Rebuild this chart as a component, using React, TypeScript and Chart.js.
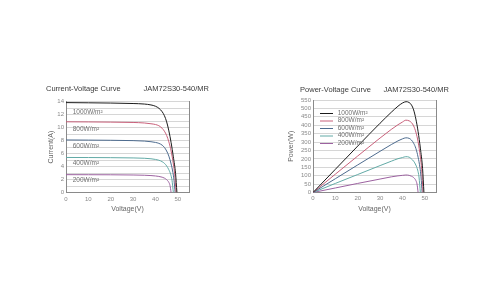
import React, { useEffect, useRef } from 'react';
import { Chart, registerables } from 'chart.js';
Chart.register(...registerables);

const FONT = "'Liberation Sans', Arial, Helvetica, sans-serif";

const irradianceLabels = ['1000W/m²', '800W/m²', '600W/m²', '400W/m²', '200W/m²'];
const seriesColors = ['#1c1c1c', '#c8607a', '#4d6b8e', '#62aaa6', '#9c62a0'];

const xTickValues = [0, 10, 20, 30, 40, 50];

// Current-Voltage data
const iv1000V = [0, 10, 20, 30, 35, 38, 40, 41.6, 43, 44, 45, 46, 47, 48, 49, 49.6];
const iv1000I = [13.86, 13.83, 13.79, 13.72, 13.64, 13.5, 13.3, 12.97, 12.45, 11.85, 10.9, 9.5, 7.7, 5.5, 2.9, 0];
const iv800V = [0, 10, 20, 30, 35, 38, 40, 41.5, 43, 44, 45, 46, 47, 48, 48.6, 49.2];
const iv800I = [10.9, 10.88, 10.85, 10.8, 10.72, 10.6, 10.48, 10.3, 9.9, 9.45, 8.8, 7.8, 6.4, 4.4, 2.8, 0];
const iv600V = [0, 10, 20, 30, 35, 38, 40, 41.5, 43, 44, 45, 46, 47, 47.8, 48.3, 48.8];
const iv600I = [8.1, 8.08, 8.05, 8.0, 7.93, 7.83, 7.72, 7.58, 7.3, 6.95, 6.4, 5.6, 4.4, 3.1, 1.9, 0];
const iv400V = [0, 10, 20, 30, 35, 38, 40, 41.5, 43, 44, 45, 46, 46.8, 47.4, 48];
const iv400I = [5.4, 5.39, 5.37, 5.33, 5.28, 5.2, 5.1, 4.98, 4.75, 4.5, 4.1, 3.5, 2.8, 1.9, 0];
const iv200V = [0, 10, 20, 30, 35, 38, 40, 41.5, 43, 44, 45, 46, 46.5, 47];
const iv200I = [2.75, 2.74, 2.73, 2.7, 2.66, 2.61, 2.55, 2.48, 2.36, 2.22, 1.98, 1.55, 1.1, 0];

// Power-Voltage data
const pv1000P = [0, 138, 276, 412, 477, 513, 532, 540, 535, 521, 491, 437, 362, 264, 142, 0];
const pv800P = [0, 109, 217, 324, 375, 403, 419, 430, 426, 416, 396, 359, 301, 211, 136, 0];
const pv600P = [0, 82, 164, 245, 285, 307, 319, 325, 322, 312, 293, 262, 210, 150, 93, 0];
const pv400P = [0, 54, 107, 160, 186, 201, 208, 213, 210, 200, 186, 163, 133, 92, 0];
const pv200P = [0, 27, 54, 80, 93, 99, 102, 104, 102, 97, 89, 71, 51, 0];

const ivSeries = [
  [iv1000V, iv1000I],
  [iv800V, iv800I],
  [iv600V, iv600I],
  [iv400V, iv400I],
  [iv200V, iv200I],
];
const pvSeries = [
  [iv1000V, pv1000P],
  [iv800V, pv800P],
  [iv600V, pv600P],
  [iv400V, pv400P],
  [iv200V, pv200P],
];

const makeDatasets = (series: number[][][]) =>
  series.map(([xs, ys], i) => ({
    label: irradianceLabels[i],
    data: xs.map((x, j) => ({ x, y: ys[j] })),
    borderColor: seriesColors[i],
    backgroundColor: seriesColors[i],
    borderWidth: 1,
    pointRadius: 0,
    cubicInterpolationMode: 'monotone' as const,
    fill: false,
  }));

const inlineLabels = {
  id: 'inlineLabels',
  afterDatasetsDraw(chart: any, _args: any, opts: any) {
    const { ctx, chartArea } = chart;
    ctx.save();
    ctx.font = `6.5px ${FONT}`;
    ctx.fillStyle = '#707070';
    ctx.textBaseline = 'middle';
    ctx.textAlign = 'left';
    irradianceLabels.forEach((lab, i) => {
      const y = chartArea.top + opts.top + i * opts.step;
      if (opts.withLines) {
        ctx.strokeStyle = seriesColors[i];
        ctx.lineWidth = 1;
        ctx.beginPath();
        ctx.moveTo(chartArea.left + opts.lineStart, y + 0.5);
        ctx.lineTo(chartArea.left + opts.lineEnd, y + 0.5);
        ctx.stroke();
      }
      ctx.fillText(lab, chartArea.left + opts.textX, y);
    });
    ctx.restore();
  },
};

function makeOptions(title: string, titlePad: any, yMax: number, yStep: number, yLabelEvery: number, yTitle: string, yTitlePad: number, xTickPad: number, labelsOpts: any) {
  return {
    responsive: false,
    animation: false as const,
    layout: { padding: 0 },
    plugins: {
      legend: { display: false },
      tooltip: { enabled: false },
      title: {
        display: true,
        text: title,
        color: '#3a3a3a',
        font: { size: 7.5, family: FONT, weight: 'normal' as const },
        padding: titlePad,
      },
      inlineLabels: labelsOpts,
    },
    scales: {
      x: {
        type: 'linear' as const,
        min: 0,
        max: 55,
        grid: { display: false, drawTicks: false },
        border: { display: true, color: '#8a8a8a', width: 1 },
        ticks: {
          stepSize: 10,
          includeBounds: false,
          padding: xTickPad,
          color: '#8a8a8a',
          font: { size: 6, family: FONT },
          callback: (v: any) => (xTickValues.includes(v) ? String(v) : ''),
        },
        title: {
          display: true,
          text: 'Voltage(V)',
          color: '#666',
          font: { size: 7, family: FONT },
          padding: { top: 0, bottom: 6.8 },
        },
        afterFit: (s: any) => { s.height = 27.5; },
      },
      y: {
        type: 'linear' as const,
        position: 'left' as const,
        min: 0,
        max: yMax,
        grid: { display: true, drawTicks: false, color: '#d6d6d6', lineWidth: 1 },
        border: { display: true, color: '#8a8a8a', width: 1 },
        ticks: {
          stepSize: yStep,
          autoSkip: false,
          padding: 2,
          color: '#8a8a8a',
          font: { size: 6, family: FONT },
          callback: (v: any) => (Math.round(v) % yLabelEvery === 0 ? String(v) : ''),
        },
        title: {
          display: true,
          text: yTitle,
          color: '#666',
          font: { size: 7, family: FONT },
          padding: { top: yTitlePad, bottom: 0 },
        },
        afterFit: (s: any) => { s.width = 44; },
      },
      y2: {
        type: 'linear' as const,
        position: 'right' as const,
        min: 0,
        max: yMax,
        grid: { display: false, drawTicks: false },
        border: { display: true, color: '#8a8a8a', width: 1 },
        ticks: { display: false },
        afterFit: (s: any) => { s.width = 44; },
      },
    },
  };
}

function ChartBox({ left, config }: { left: number; config: any }) {
  const ref = useRef<HTMLCanvasElement>(null);
  useEffect(() => {
    if (!ref.current) return;
    const chart = new Chart(ref.current, config);
    return () => chart.destroy();
  }, []);
  return (
    <canvas
      ref={ref}
      width={211}
      height={140}
      style={{ position: 'absolute', left, top: 80, width: 211, height: 140 }}
    />
  );
}

export default function App() {
  useEffect(() => {
    document.body.style.margin = '0';
    document.body.style.background = '#ffffff';
  }, []);

  const ivConfig = {
    type: 'line',
    data: { datasets: makeDatasets(ivSeries) },
    options: makeOptions(
      'Current-Voltage Curve           JAM72S30-540/MR',
      { top: 4.5, bottom: 8.2 },
      14, 1, 2, 'Current(A)', 24.5, 3,
      { top: 11, step: 16.8, textX: 6.7, withLines: false }
    ),
    plugins: [inlineLabels],
  };

  const pvConfig = {
    type: 'line',
    data: { datasets: makeDatasets(pvSeries) },
    options: makeOptions(
      'Power-Voltage Curve      JAM72S30-540/MR',
      { top: 5.5, bottom: 5.5 },
      550, 50, 50, 'Power(W)', 17.5, 2,
      { top: 13, step: 7.5, textX: 24.7, lineStart: 7, lineEnd: 20, withLines: true }
    ),
    plugins: [inlineLabels],
  };

  return (
    <div style={{ position: 'relative', width: 500, height: 281, background: '#fff' }}>
      <ChartBox left={22} config={ivConfig} />
      <ChartBox left={269} config={pvConfig} />
    </div>
  );
}
